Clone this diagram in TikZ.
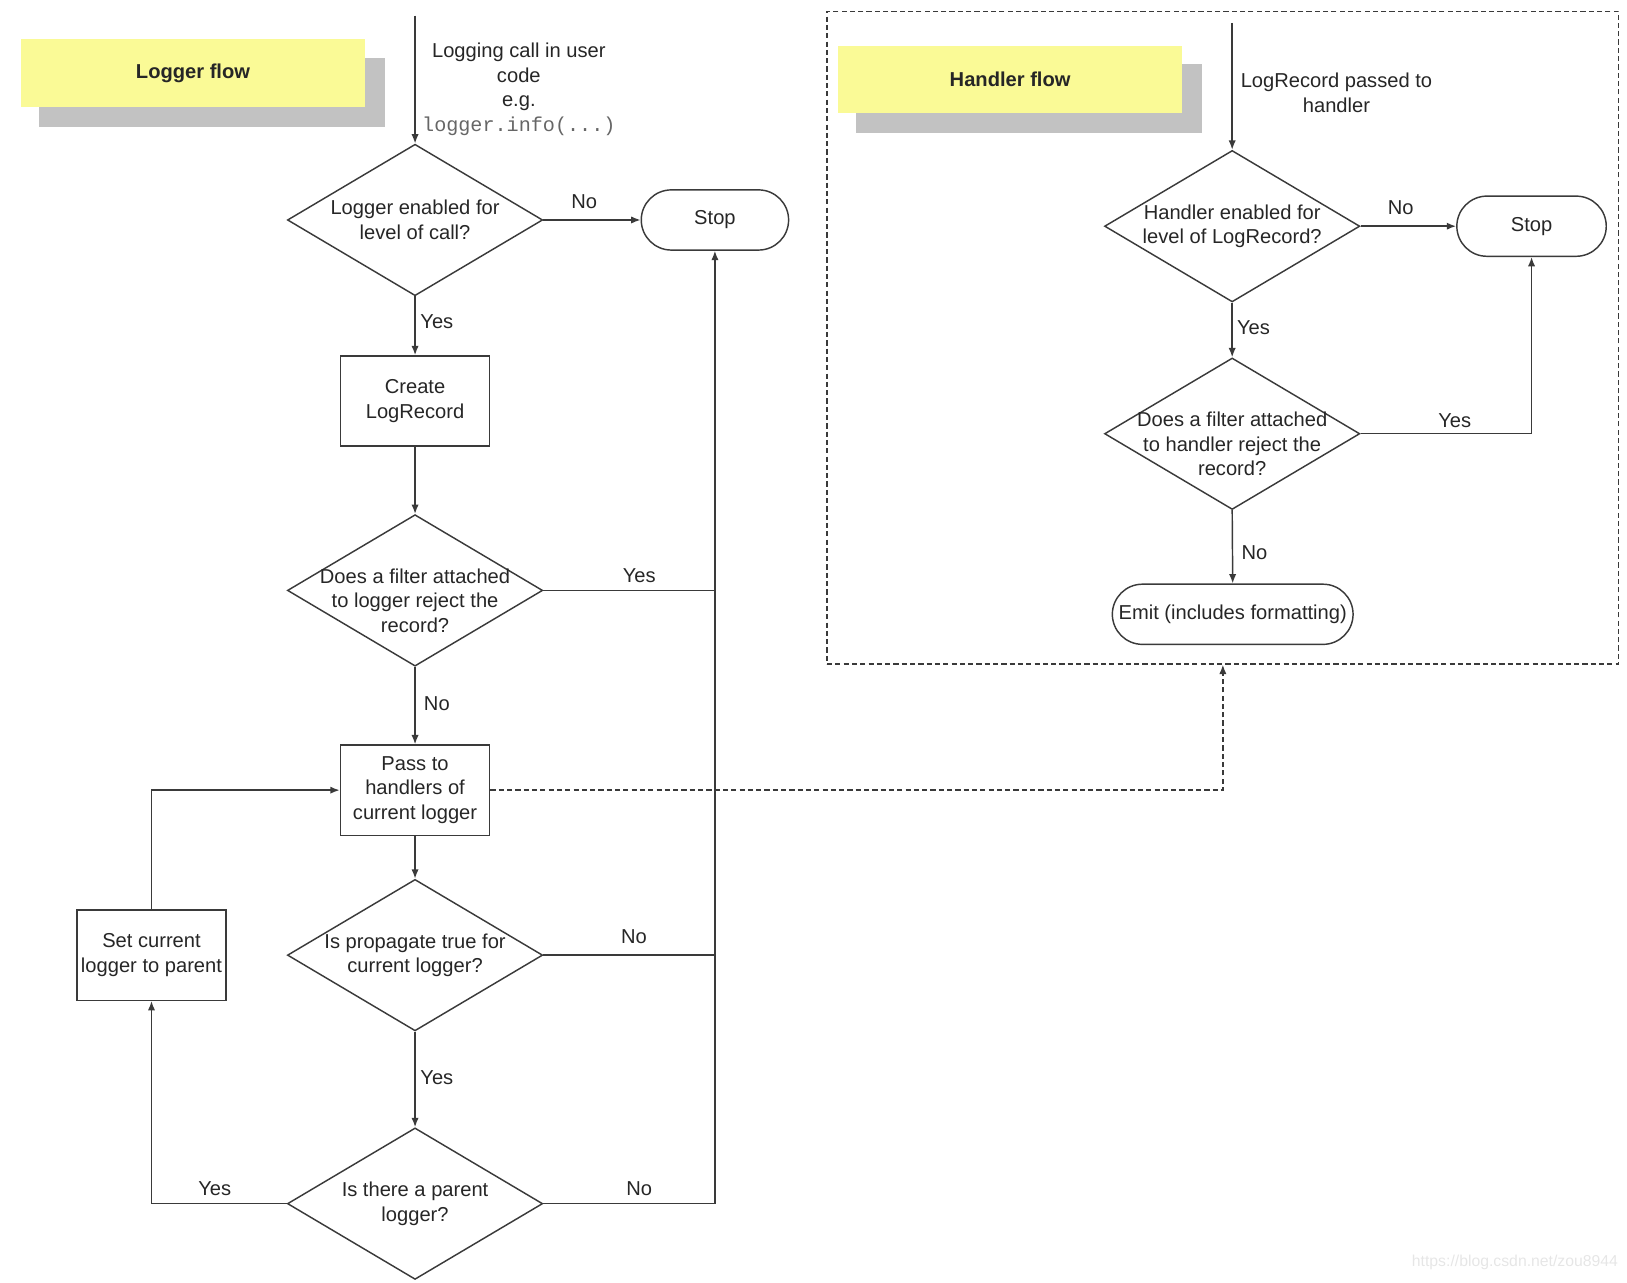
\documentclass[tikz,border=0pt]{standalone}
\usepackage{fontspec}
\setmainfont{Liberation Sans}
\setmonofont{Liberation Mono}
\usetikzlibrary{shapes.geometric,arrows.meta}
\definecolor{ln}{HTML}{3A3A3A}
\definecolor{tx}{HTML}{262626}
\definecolor{yel}{HTML}{FAFA96}
\definecolor{shd}{HTML}{C2C2C2}
\definecolor{mono}{HTML}{666666}
\definecolor{wm}{HTML}{E6E6E6}
\begin{document}
\begin{tikzpicture}[x=1pt,y=-1pt,
  font=\fontsize{19.4pt}{23.5pt}\selectfont, text=tx,
  line/.style={draw=ln, line width=1.4pt},
  arr/.style={line, -{Latex[length=9pt,width=7pt]}},
  dia/.style={diamond, draw=ln, line width=1.4pt, minimum width=246pt, minimum height=146pt, inner sep=0pt},
  procbox/.style={rectangle, draw=ln, line width=1.4pt, minimum width=144pt, minimum height=87pt, align=center, inner sep=0pt},
  term/.style={rectangle, rounded corners=29pt, draw=ln, line width=1.4pt, minimum height=58pt, align=center, inner sep=0pt},
  lbl/.style={align=center, inner sep=0pt},
  lbl3/.style={align=center, inner sep=0pt, yshift=-10pt},
  title/.style={fill=yel, minimum width=332pt, minimum height=65pt, inner sep=0pt, font=\fontsize{19.4pt}{23.5pt}\selectfont\bfseries},
  shadow/.style={fill=shd, minimum width=333pt, minimum height=66pt, inner sep=0pt},
]
\useasboundingbox (0,0) rectangle (1568,1236);

% ---------- Logger flow ----------
\node[shadow] (lfs) at (204.5,89) {};
\node[title] (lf) at (186,70.5) {Logger flow};

\coordinate (s1) at (400,15);
\node[lbl] (s1t) at (500,86) {Logging call in user\\code\\e.g.\\{\ttfamily\color{mono}logger.info(...)}};

\node[dia, label={[lbl]center:Logger enabled for\\level of call?}] (d1) at (400,212) {};
\node[term, minimum width=142pt] (stop1) at (689,212) {Stop};
\node[procbox] (create) at (400,386.5) {Create\\LogRecord};
\node[dia, label={[lbl3]center:Does a filter attached\\to logger reject the\\record?}] (d2) at (400,569) {};
\node[procbox] (pass) at (400,761.5) {Pass to\\handlers of\\current logger};
\node[dia, label={[lbl]center:Is propagate true for\\current logger?}] (d3) at (400,920.5) {};
\node[dia, label={[lbl]center:Is there a parent\\logger?}] (d4) at (400,1160) {};
\node[procbox] (setp) at (146,920.5) {Set current\\logger to parent};

\draw[arr] (s1) -- (d1.north);
\draw[arr] (d1.east) -- (stop1.west);
\node[lbl] (l1) at (563,194) {No};
\draw[arr] (d1.south) -- (create.north);
\node[lbl] (l2) at (421,310) {Yes};
\draw[arr] (create.south) -- (d2.north);
\draw[line] (d2.east) -- (d2.east -| stop1.south);
\node[lbl] (l3) at (616,555) {Yes};
\draw[arr] (d2.south) -- (pass.north);
\node[lbl] (l4) at (421,678) {No};
\draw[arr] (pass.south) -- (d3.north);
\draw[line] (d3.east) -- (d3.east -| stop1.south);
\node[lbl] (l5) at (611,903) {No};
\draw[arr] (d3.south) -- (d4.north);
\node[lbl] (l6) at (421,1039) {Yes};
\draw[arr] (d4.east) -| (stop1.south);
\node[lbl] (l7) at (616,1146) {No};
\draw[arr] (d4.west) -| (setp.south);
\node[lbl] (l8) at (207,1146) {Yes};
\draw[arr] (setp.north) |- (pass.west);

% ---------- Handler flow ----------
\node[draw=ln, dashed, dash pattern=on 5pt off 3pt, line width=1.2pt, minimum width=763pt, minimum height=629pt, inner sep=0pt] (hframe) at (1178.5,325.5) {};
\node[shadow] (hfs) at (991.5,95) {};
\node[title] (hf) at (973.5,76.5) {Handler flow};

\coordinate (s2) at (1187.5,22);
\node[lbl] (s2t) at (1288,89.5) {LogRecord passed to\\handler};
\node[dia, label={[lbl]center:Handler enabled for\\level of LogRecord?}] (h1) at (1187.5,218) {};
\node[term, minimum width=144pt] (stop2) at (1476,218) {Stop};
\node[dia, label={[lbl3]center:Does a filter attached\\to handler reject the\\record?}] (h2) at (1187.5,418) {};
\node[term, minimum width=232pt] (emit) at (1188,592) {Emit (includes formatting)};

\draw[arr] (s2) -- (h1.north);
\draw[arr] (h1.east) -- (stop2.west);
\node[lbl] (m1) at (1350,200) {No};
\draw[arr] (h1.south) -- (h2.north);
\node[lbl] (m2) at (1208,316) {Yes};
\draw[arr] (h2.east) -| (stop2.south);
\node[lbl] (m3) at (1402,405) {Yes};
\draw[arr] (h2.south) -- (emit.north);
\node[lbl] (m4) at (1209,533) {No};

\draw[arr, dashed, dash pattern=on 5pt off 3pt] (pass.east) -| (hframe.south);

\node[lbl, text=wm, font=\fontsize{15.2pt}{18pt}\selectfont] (wmk) at (1460,1217) {https://blog.csdn.net/zou8944};
\end{tikzpicture}
\end{document}
